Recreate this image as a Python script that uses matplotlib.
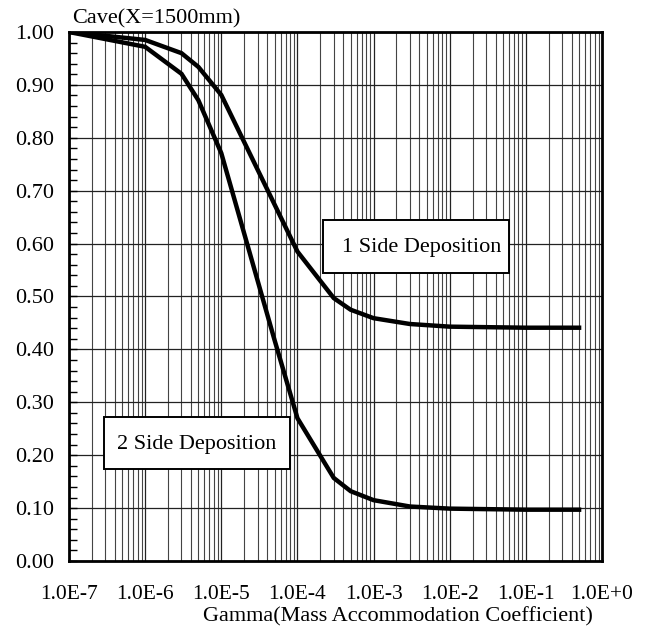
import matplotlib.pyplot as plt
import numpy as np
from matplotlib.patches import Rectangle
from matplotlib.ticker import FixedLocator, FuncFormatter, MultipleLocator, NullFormatter

plt.rcParams['font.family'] = ['Liberation Serif', 'DejaVu Serif']

gamma_1 = [1e-7, 1e-6, 3e-6, 5e-6, 1e-5, 1e-4, 3e-4, 5e-4,
           1e-3, 3e-3, 1e-2, 1e-1, 5e-1]
one_side = [1.0, 0.985, 0.96, 0.934, 0.881, 0.585, 0.497, 0.475,
            0.459, 0.448, 0.443, 0.441, 0.441]
gamma_2 = [1e-7, 1e-6, 3e-6, 5e-6, 1e-5, 5e-5, 1e-4, 3e-4, 5e-4,
           1e-3, 3e-3, 1e-2, 1e-1, 5e-1]
two_side = [1.0, 0.972, 0.921, 0.871, 0.771, 0.418, 0.27, 0.157, 0.132,
            0.115, 0.103, 0.099, 0.097, 0.097]

decades = 10.0 ** np.arange(-7, 1)

fig = plt.figure(figsize=(6.47, 6.29), dpi=100)
ax = fig.add_axes([69 / 647, 1 - 561 / 629, 533 / 647, 529 / 629])

ax.plot(gamma_1, one_side, color='black', lw=3.2, solid_joinstyle='miter', zorder=3)
ax.plot(gamma_2, two_side, color='black', lw=3.2, solid_joinstyle='miter', zorder=3)

ax.set_xscale('log')
ax.set_xlim(1e-7, 1e0)
ax.set_ylim(0, 1)

ax.xaxis.set_major_locator(FixedLocator(decades))
ax.xaxis.set_minor_locator(FixedLocator((decades[:-1, None] * np.arange(2, 10)).ravel()))
ax.xaxis.set_major_formatter(FuncFormatter(lambda v, p: f"1.0E{int(round(np.log10(v))):+d}"))
ax.xaxis.set_minor_formatter(NullFormatter())
ax.yaxis.set_major_locator(MultipleLocator(0.1))
ax.yaxis.set_minor_locator(MultipleLocator(0.02))
ax.yaxis.set_major_formatter(FuncFormatter(lambda v, p: f"{v:.2f}"))

ax.grid(True, which='major', color='#222222', lw=0.9)
ax.grid(True, which='minor', axis='x', color='#444444', lw=0.8)

ax.tick_params(axis='x', which='both', length=0, labelsize=15.5, pad=17)
ax.tick_params(axis='y', which='major', length=6, direction='in', labelsize=16, pad=11, width=1)
ax.tick_params(axis='y', which='minor', length=6, direction='in', width=1)
for s in ax.spines.values():
    s.set_linewidth(2)

fig.text(72 / 647, 1 - 19 / 629, 'Cave(X=1500mm)', fontsize=16, va='center', ha='left')
fig.text(398 / 647, 1 - 617 / 629, 'Gamma(Mass Accommodation Coefficient)', fontsize=16,
         va='center', ha='center')

# label boxes (figure pixel coords: left, top, right, bottom)
for (l, t, r, b), label, tx in [((323, 220, 509, 273), '1 Side Deposition', 422),
                                ((104, 417, 290, 469), '2 Side Deposition', 197)]:
    fig.add_artist(Rectangle((l / 647, 1 - b / 629), (r - l) / 647, (b - t) / 629,
                             transform=fig.transFigure, fc='white', ec='black', lw=1.4,
                             zorder=5))
    fig.text(tx / 647, 1 - ((t + b) / 2 + 1) / 629, label, fontsize=16, ha='center',
             va='center', zorder=6)

fig.savefig('out.png', dpi=100)
